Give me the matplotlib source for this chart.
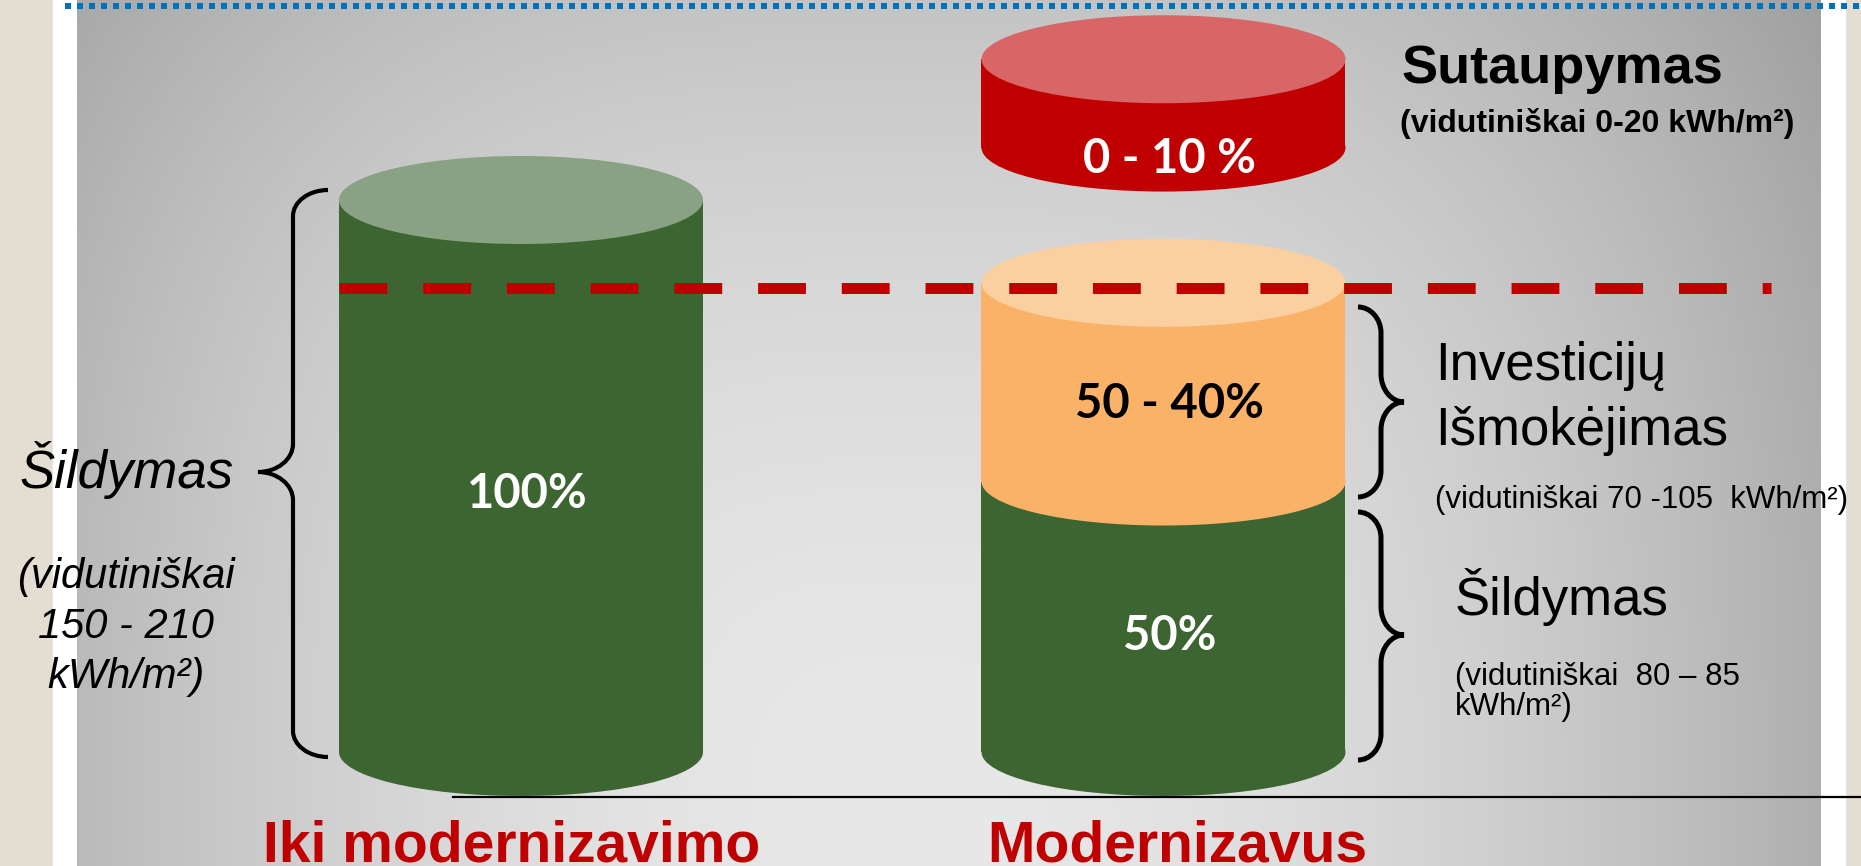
import numpy as np
import matplotlib.pyplot as plt
from matplotlib.patches import Ellipse, Rectangle, PathPatch
from matplotlib.path import Path

# --- data (diagram units: % of heating energy before modernisation) ---
categories = ['Iki modernizavimo', 'Modernizavus']
seg_cat = [0, 1, 1, 1]
seg_bottom = [0, 0, 49, 109.5]
seg_top = [100, 49, 85, 125.5]
seg_labels = ['100%', '50%', '50 - 40%', '0 - 10 %']
ref_level = 84  # dashed line = old consumption level

# styles
seg_body = ['#3d6531', '#3d6531', '#f9b268', '#c00000']
seg_cap = ['#88a283', None, '#fad0a0', '#d96666']
label_colors = ['white', 'white', 'black', 'white']
label_dy = [-3.3, -3.5, -3.9, -10.0]

W, H = 1861, 866
# pixel mapping of the data axes
ox, oy = 521, 752          # pixel of (x=0, y=0)
sx, sy = 642.5, 5.52       # pixels per unit
rx = 182 / sx
ry = 44 / sy


def X(px):
    return (px - ox) / sx


def Y(py):
    return (oy - py) / sy


fig = plt.figure(figsize=(W / 100, H / 100), dpi=100, facecolor='#e3ddd2')

# background panel
bg = fig.add_axes([0, 0, 1, 1])
bg.axis('off')
bg.add_patch(Rectangle((53, 0), 24, H, color='white', zorder=0))
bg.add_patch(Rectangle((1821, 0), 24, H, color='white', zorder=0))
gx = np.linspace(77, 1821, 600)
gy = np.linspace(0, H, 300)
GX, GY = np.meshgrid(gx, gy)
r = (np.abs((GX - 900) / 720) ** 3 + np.abs((GY - 830) / 830) ** 3) ** (1 / 3)
v = np.clip(232 - 36 * r ** 1.85, 150, 235) / 255
bg.imshow(np.dstack([v, v, v]), extent=(77, 1821, H, 0), aspect='auto', zorder=1)
bg.plot([65, W], [6, 6], color='#0070c0', lw=4.32, ls=(0, (1, 1)),
        dash_capstyle='butt', zorder=2)
bg.set_xlim(0, W)
bg.set_ylim(H, 0)

# data axes
ax = fig.add_axes([0, 0, 1, 1])
ax.patch.set_alpha(0)
ax.axis('off')
ax.set_xlim(X(0), X(W))
ax.set_ylim(Y(H), Y(0))

# base line
ax.plot([X(453), X(W)], [-ry - 0.25] * 2, color='black', lw=1.6, zorder=1,
        clip_on=False)

for i in range(len(seg_cat)):
    c = seg_cat[i]
    b, t = seg_bottom[i], seg_top[i]
    z = 2 + i
    ax.add_patch(Rectangle((c - rx, b), 2 * rx, t - b, facecolor=seg_body[i],
                           edgecolor='none', zorder=z))
    ax.add_patch(Ellipse((c, b), 2 * rx, 2 * ry, facecolor=seg_body[i],
                         edgecolor='none', zorder=z))
    if seg_cap[i]:
        ax.add_patch(Ellipse((c, t), 2 * rx, 2 * ry, facecolor=seg_cap[i],
                             edgecolor='none', zorder=z))
    ax.text(c + 0.01, (b + t) / 2 + label_dy[i], seg_labels[i], color=label_colors[i],
            fontsize=34, fontweight='bold', family='Lato', ha='center', va='center',
            zorder=20)

# dashed reference line
ax.plot([-rx, X(1771)], [ref_level] * 2, color='#c00000', lw=7.9,
        dashes=(4.36, 3.27), dash_capstyle='butt', zorder=15)

# category labels
for i, name in enumerate(categories):
    ax.text(i + [-0.014, 0.021][i], Y(862), name, color='#c00000', fontsize=41,
            fontweight='bold', family='Liberation Sans', ha='center', va='baseline')


def brace(xo, xs, xt, yt, ym, yb, lw):
    r1, r2 = 26, 28
    pts = [(xo, yt), (xo + (xs - xo) * 0.55, yt), (xs, yt + r1 * 0.45), (xs, yt + r1),
           (xs, ym - r2),
           (xs, ym - r2 * 0.45), (xs + (xt - xs) * 0.45, ym), (xt, ym),
           (xs + (xt - xs) * 0.45, ym), (xs, ym + r2 * 0.45), (xs, ym + r2),
           (xs, yb - r1),
           (xs, yb - r1 * 0.45), (xo + (xs - xo) * 0.55, yb), (xo, yb)]
    codes = [Path.MOVETO, Path.CURVE4, Path.CURVE4, Path.CURVE4, Path.LINETO,
             Path.CURVE4, Path.CURVE4, Path.CURVE4, Path.CURVE4, Path.CURVE4,
             Path.CURVE4, Path.LINETO, Path.CURVE4, Path.CURVE4, Path.CURVE4]
    pts = [(X(p[0]), Y(p[1])) for p in pts]
    ax.add_patch(PathPatch(Path(pts, codes), facecolor='none', edgecolor='black',
                           lw=lw, capstyle='butt', zorder=12))


brace(328, 293, 258, 190, 472, 757, 3.0)
brace(1358, 1381, 1404, 307, 402, 497, 3.6)
brace(1358, 1381, 1404, 512, 635, 760, 3.6)

arial = 'Liberation Sans'
# left annotation
ax.text(X(20), Y(488), 'Šildymas', fontsize=38, style='italic', family=arial,
        va='baseline')
for txt, py in [('(vidutiniškai', 577), ('150 - 210', 627), ('kWh/m²)', 677)]:
    ax.text(X(126), Y(py), txt, fontsize=30, style='italic', family=arial,
            ha='center', va='center')

# right annotations
ax.text(X(1402), Y(83), 'Sutaupymas', fontsize=39, fontweight='bold', family=arial,
        va='baseline')
ax.text(X(1400), Y(132), '(vidutiniškai 0-20 kWh/m²)', fontsize=23,
        fontweight='bold', family=arial, va='baseline')
ax.text(X(1435), Y(380), 'Investicijų', fontsize=38, family=arial, va='baseline')
ax.text(X(1435), Y(445), 'Išmokėjimas', fontsize=38, family=arial, va='baseline')
ax.text(X(1435), Y(508), '(vidutiniškai 70 -105  kWh/m²)', fontsize=22.5,
        family=arial, va='baseline')
ax.text(X(1455), Y(615), 'Šildymas', fontsize=38, family=arial, va='baseline')
ax.text(X(1455), Y(685), '(vidutiniškai  80 – 85', fontsize=22.5, family=arial,
        va='baseline')
ax.text(X(1455), Y(715), 'kWh/m²)', fontsize=22.5, family=arial, va='baseline')

fig.savefig('out.png', dpi=100, facecolor=fig.get_facecolor())
